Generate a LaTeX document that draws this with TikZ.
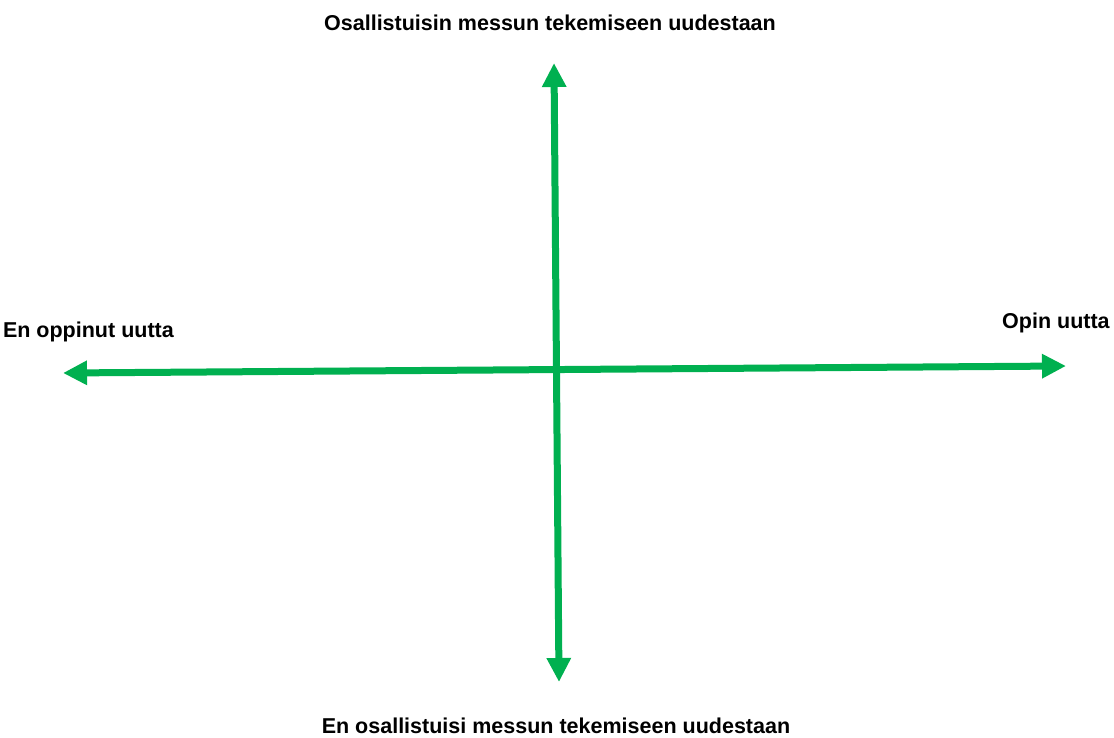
\documentclass[tikz,border=0pt]{standalone}
\usepackage{fontspec}
\setmainfont{Liberation Sans}
\usetikzlibrary{arrows.meta}
\definecolor{vihrea}{HTML}{00B050}
\begin{document}
\begin{tikzpicture}[x=1pt,y=-1pt,
  akseli/.style={draw=vihrea,line width=7pt,{Triangle[length=24pt,width=23pt]}-{Triangle[length=24pt,width=23pt]}},
  otsikko/.style={font=\fontsize{21.5}{26}\selectfont\bfseries,inner sep=0pt}]
\useasboundingbox (0,0) rectangle (1114,738);
\clip (0,0) rectangle (1114,738);
\coordinate (N) at (554,63);
\coordinate (S) at (559,682);
\coordinate (W) at (63,373);
\coordinate (E) at (1066,366);
\draw [akseli] (N)--(S);
\draw [akseli] (W)--(E);
\node [otsikko,anchor=base] (ylos) at (550,31) {Osallistuisin messun tekemiseen uudestaan};
\node [otsikko,anchor=base] (alas) at (556,733) {En osallistuisi messun tekemiseen uudestaan};
\node [otsikko,anchor=base east] (vasen) at (174,337) {En oppinut uutta};
\node [otsikko,anchor=base west] (oikea) at (1002,328) {Opin uutta};
\end{tikzpicture}
\end{document}
